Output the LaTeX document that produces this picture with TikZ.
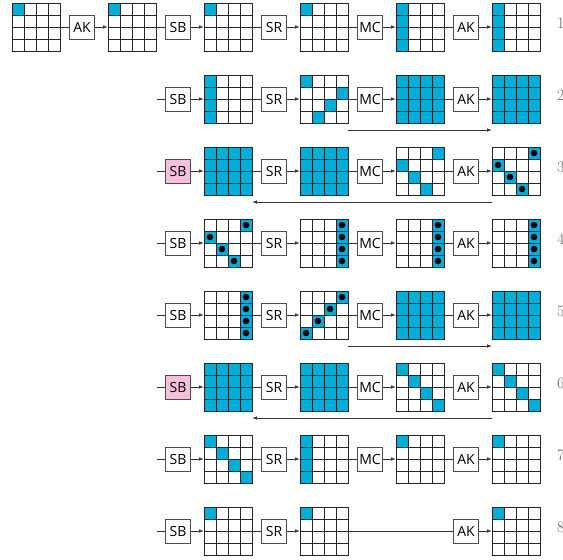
\documentclass[tikz,border=0pt]{standalone}
\usepackage{fontspec}
\newfontfamily\opfont{Open Sans}
\usetikzlibrary{arrows.meta,positioning}

\definecolor{statecyan}{HTML}{00AED7}
\definecolor{sbpink}{HTML}{F5C0D9}

\tikzset{
  op/.style={draw=black!70,fill=white,minimum width=25pt,minimum height=24pt,inner sep=1pt,font=\opfont\fontsize{14}{14}\selectfont},
  hotop/.style={op,fill=sbpink},
  state/.style={minimum size=48pt,inner sep=0pt,outer sep=0pt},
  cellline/.style={draw=black!85,line width=1pt},
  wire/.style={draw=black!80,line width=0.8pt},
  flow/.style={wire,-{Latex[length=5pt,width=3.5pt]}},
  roundno/.style={anchor=west,inner sep=0pt,text=black!60,font=\fontsize{16}{16}\selectfont},
}

\def\allcells{0/0,0/1,0/2,0/3,1/0,1/1,1/2,1/3,2/0,2/1,2/2,2/3,3/0,3/1,3/2,3/3}
\def\firstcol{0/0,1/0,2/0,3/0}
\def\lastcol{0/3,1/3,2/3,3/3}
\def\diagcells{0/0,1/1,2/2,3/3}

% a 4x4 state: name, centre, cyan cells (row/col)
\newcommand{\stategrid}[3]{%
  \node[state] (#1) at (#2) {};
  \edef\cellset{#3}%
  \foreach \i/\j in \cellset
    \fill[statecyan] ([shift={(\j*12,\i*12)}]#1.north west) rectangle ++(12,12);
  \foreach \d in {12,24,36} {
    \draw[cellline] ([xshift=\d pt]#1.north west) -- ([xshift=\d pt]#1.south west);
    \draw[cellline] ([yshift=-\d pt]#1.north west) -- ([yshift=-\d pt]#1.north east);
  }
  \draw[cellline] (#1.north west) rectangle (#1.south east);
}
\newcommand{\dotcells}[2]{%
  \edef\cellset{#2}%
  \foreach \i/\j in \cellset
    \fill ([shift={(\j*12+6,\i*12+6)}]#1.north west) circle (3.3pt);
}

\begin{document}
\begin{tikzpicture}[x=1pt,y=-1pt]
\useasboundingbox (0,0) rectangle (563,560);

% round 1
\stategrid{s10}{36,27}{0/0}
\stategrid{s11}{132,27}{0/0}
\stategrid{s12}{228,27}{0/0}
\stategrid{s13}{324,27}{0/0}
\stategrid{s14}{420,27}{\firstcol}
\stategrid{s15}{516,27}{\firstcol}
% round 2
\stategrid{s22}{228,99}{\firstcol}
\stategrid{s23}{324,99}{0/0,1/3,2/2,3/1}
\stategrid{s24}{420,99}{\allcells}
\stategrid{s25}{516,99}{\allcells}
% round 3
\stategrid{s32}{228,171}{\allcells}
\stategrid{s33}{324,171}{\allcells}
\stategrid{s34}{420,171}{0/3,1/0,2/1,3/2}
\stategrid{s35}{516,171}{0/3,1/0,2/1,3/2}
\dotcells{s35}{0/3,1/0,2/1,3/2}
% round 4
\stategrid{s42}{228,243}{0/3,1/0,2/1,3/2}
\dotcells{s42}{0/3,1/0,2/1,3/2}
\stategrid{s43}{324,243}{\lastcol}
\dotcells{s43}{\lastcol}
\stategrid{s44}{420,243}{\lastcol}
\dotcells{s44}{\lastcol}
\stategrid{s45}{516,243}{\lastcol}
\dotcells{s45}{\lastcol}
% round 5
\stategrid{s52}{228,315}{\lastcol}
\dotcells{s52}{\lastcol}
\stategrid{s53}{324,315}{0/3,1/2,2/1,3/0}
\dotcells{s53}{0/3,1/2,2/1,3/0}
\stategrid{s54}{420,315}{\allcells}
\stategrid{s55}{516,315}{\allcells}
% round 6
\stategrid{s62}{228,387}{\allcells}
\stategrid{s63}{324,387}{\allcells}
\stategrid{s64}{420,387}{\diagcells}
\stategrid{s65}{516,387}{\diagcells}
% round 7
\stategrid{s72}{228,459}{\diagcells}
\stategrid{s73}{324,459}{\firstcol}
\stategrid{s74}{420,459}{0/0}
\stategrid{s75}{516,459}{0/0}
% round 8
\stategrid{s82}{228,531}{0/0}
\stategrid{s83}{324,531}{0/0}
\stategrid{s85}{516,531}{0/0}

% operations, round 1
\node[op] (o11) at (82,27) {AK};
\node[op] (o12) at (178,27) {SB};
\node[op] (o13) at (274,27) {SR};
\node[op] (o14) at (370,27) {MC};
\node[op] (o15) at (466,27) {AK};
\foreach \col [evaluate=\col as \prev using int(\col-1)] in {1,...,5} {
  \draw[wire] (s1\prev) -- (o1\col);
  \draw[flow] (o1\col) -- (s1\col);
}

% rounds 2 to 7
\foreach \row/\sbkind in {2/op,3/hotop,4/op,5/op,6/hotop,7/op} {
  \pgfmathsetmacro\ry{27+72*(\row-1)}
  \coordinate (in\row) at (157,\ry);
  \node[\sbkind] (o\row2) at (178,\ry) {SB};
  \node[op] (o\row3) at (274,\ry) {SR};
  \node[op] (o\row4) at (370,\ry) {MC};
  \node[op] (o\row5) at (466,\ry) {AK};
  \draw[wire] (in\row) -- (o\row2);
  \draw[flow] (o\row2) -- (s\row2);
  \foreach \col [evaluate=\col as \prev using int(\col-1)] in {3,4,5} {
    \draw[wire] (s\row\prev) -- (o\row\col);
    \draw[flow] (o\row\col) -- (s\row\col);
  }
}

% round 8, no MC
\coordinate (in8) at (157,531);
\node[op] (o82) at (178,531) {SB};
\node[op] (o83) at (274,531) {SR};
\node[op] (o85) at (466,531) {AK};
\draw[wire] (in8) -- (o82);
\draw[flow] (o82) -- (s82);
\draw[wire] (s82) -- (o83);
\draw[flow] (o83) -- (s83);
\draw[wire] (s83) -- (o85);
\draw[flow] (o85) -- (s85);

% links under the rounds
\draw[flow] ([yshift=-7pt]s23.south east) -- ([yshift=-7pt]s25.south west);
\draw[flow] ([yshift=-7pt]s35.south west) -- ([yshift=-7pt]s32.south east);
\draw[flow] ([yshift=-7pt]s53.south east) -- ([yshift=-7pt]s55.south west);
\draw[flow] ([yshift=-7pt]s65.south west) -- ([yshift=-7pt]s62.south east);

% round numbers
\foreach \row in {1,...,8}
  \node[roundno] (n\row) at (557,{23+72*(\row-1)}) {\row};
\end{tikzpicture}
\end{document}
